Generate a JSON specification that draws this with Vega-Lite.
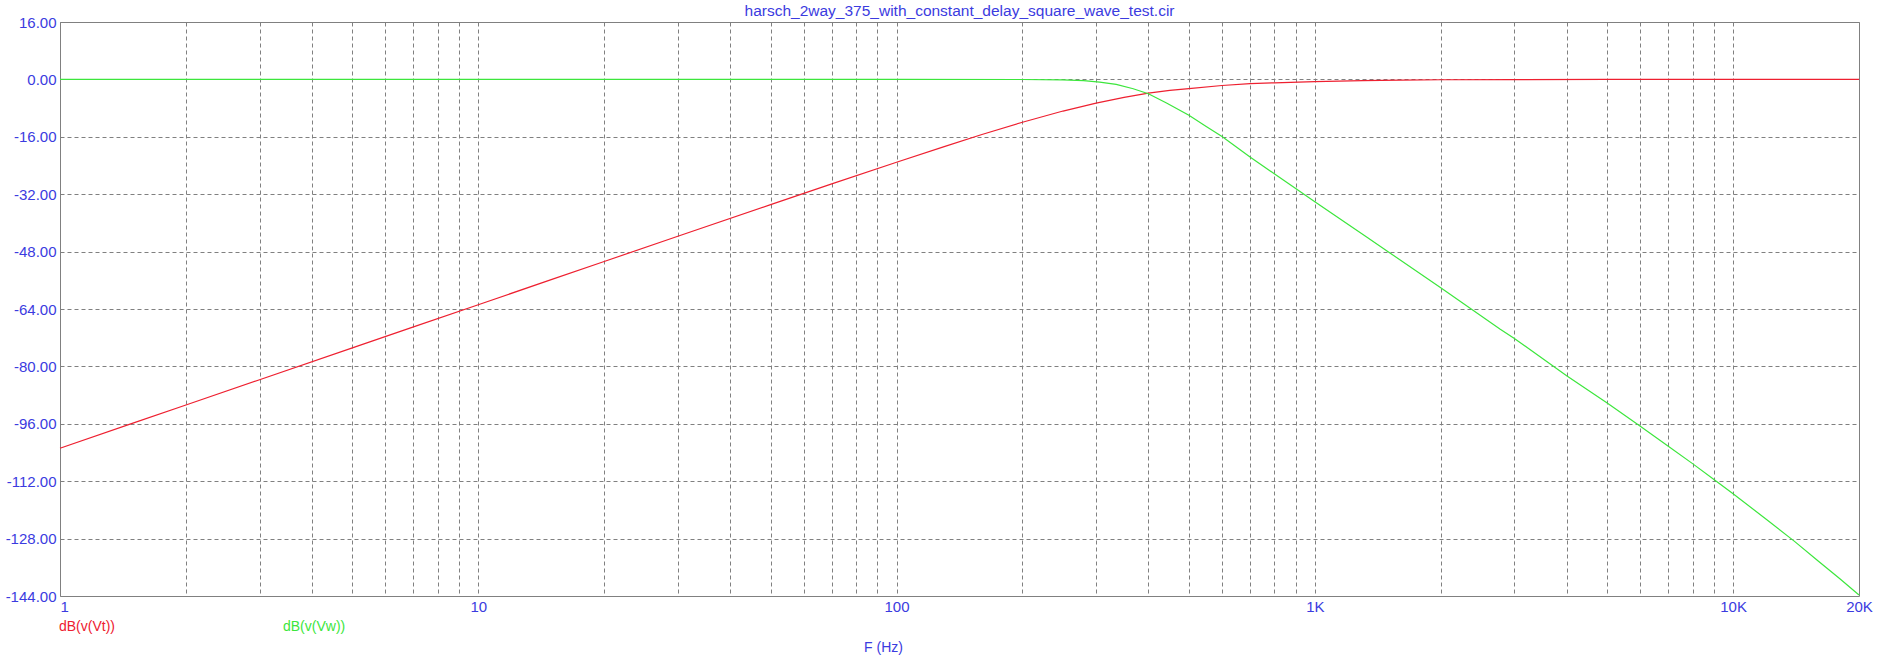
{
  "$schema": "https://vega.github.io/schema/vega-lite/v6.json",
  "width": 1799,
  "height": 574,
  "autosize": {"type": "none"},
  "padding": {"left": 60, "top": 22, "right": 40, "bottom": 64},
  "background": "white",
  "title": {
    "text": "harsch_2way_375_with_constant_delay_square_wave_test.cir",
    "anchor": "middle",
    "font": "Liberation Sans",
    "fontSize": 15.5,
    "fontWeight": "normal",
    "color": "#3b3be0",
    "offset": -4
  },
  "config": {
    "view": {"stroke": "#808080", "strokeWidth": 1},
    "axis": {
      "labelFont": "Liberation Sans",
      "titleFont": "Liberation Sans",
      "labelFontSize": 15,
      "titleFontSize": 14,
      "titleFontWeight": "normal",
      "labelColor": "#3b3be0",
      "titleColor": "#3b3be0",
      "grid": true,
      "gridColor": "#808080",
      "gridDash": [4, 3],
      "gridWidth": 1,
      "gridOpacity": 1,
      "domain": false,
      "ticks": false
    }
  },
  "data": {
    "values": [
      {"f": 1, "v": -102.8, "s": "dB(v(Vt))"},
      {"f": 1.5, "v": -95.76, "s": "dB(v(Vt))"},
      {"f": 2, "v": -90.76, "s": "dB(v(Vt))"},
      {"f": 3, "v": -83.72, "s": "dB(v(Vt))"},
      {"f": 5, "v": -74.84, "s": "dB(v(Vt))"},
      {"f": 7, "v": -69.0, "s": "dB(v(Vt))"},
      {"f": 10, "v": -62.8, "s": "dB(v(Vt))"},
      {"f": 15, "v": -55.76, "s": "dB(v(Vt))"},
      {"f": 20, "v": -50.76, "s": "dB(v(Vt))"},
      {"f": 30, "v": -43.72, "s": "dB(v(Vt))"},
      {"f": 50, "v": -34.9, "s": "dB(v(Vt))"},
      {"f": 70, "v": -29.12, "s": "dB(v(Vt))"},
      {"f": 100, "v": -23.08, "s": "dB(v(Vt))"},
      {"f": 130, "v": -18.72, "s": "dB(v(Vt))"},
      {"f": 160, "v": -15.37, "s": "dB(v(Vt))"},
      {"f": 200, "v": -11.95, "s": "dB(v(Vt))"},
      {"f": 250, "v": -8.82, "s": "dB(v(Vt))"},
      {"f": 300, "v": -6.59, "s": "dB(v(Vt))"},
      {"f": 350, "v": -4.99, "s": "dB(v(Vt))"},
      {"f": 400, "v": -3.84, "s": "dB(v(Vt))"},
      {"f": 450, "v": -3.05, "s": "dB(v(Vt))"},
      {"f": 500, "v": -2.55, "s": "dB(v(Vt))"},
      {"f": 600, "v": -1.7, "s": "dB(v(Vt))"},
      {"f": 700, "v": -1.2, "s": "dB(v(Vt))"},
      {"f": 800, "v": -0.95, "s": "dB(v(Vt))"},
      {"f": 1000, "v": -0.6, "s": "dB(v(Vt))"},
      {"f": 1300, "v": -0.35, "s": "dB(v(Vt))"},
      {"f": 1600, "v": -0.2, "s": "dB(v(Vt))"},
      {"f": 2000, "v": -0.1, "s": "dB(v(Vt))"},
      {"f": 3000, "v": -0.05, "s": "dB(v(Vt))"},
      {"f": 5000, "v": -0.02, "s": "dB(v(Vt))"},
      {"f": 10000, "v": 0, "s": "dB(v(Vt))"},
      {"f": 20000, "v": 0, "s": "dB(v(Vt))"},
      {"f": 1, "v": 0, "s": "dB(v(Vw))"},
      {"f": 10, "v": 0, "s": "dB(v(Vw))"},
      {"f": 100, "v": 0, "s": "dB(v(Vw))"},
      {"f": 200, "v": -0.03, "s": "dB(v(Vw))"},
      {"f": 250, "v": -0.12, "s": "dB(v(Vw))"},
      {"f": 280, "v": -0.35, "s": "dB(v(Vw))"},
      {"f": 306, "v": -0.74, "s": "dB(v(Vw))"},
      {"f": 335, "v": -1.4, "s": "dB(v(Vw))"},
      {"f": 368, "v": -2.6, "s": "dB(v(Vw))"},
      {"f": 400, "v": -4.0, "s": "dB(v(Vw))"},
      {"f": 442, "v": -6.6, "s": "dB(v(Vw))"},
      {"f": 500, "v": -10.0, "s": "dB(v(Vw))"},
      {"f": 550, "v": -13.1, "s": "dB(v(Vw))"},
      {"f": 600, "v": -15.9, "s": "dB(v(Vw))"},
      {"f": 700, "v": -21.6, "s": "dB(v(Vw))"},
      {"f": 800, "v": -26.3, "s": "dB(v(Vw))"},
      {"f": 900, "v": -30.4, "s": "dB(v(Vw))"},
      {"f": 1000, "v": -34.1, "s": "dB(v(Vw))"},
      {"f": 1330, "v": -43.9, "s": "dB(v(Vw))"},
      {"f": 1500, "v": -48.1, "s": "dB(v(Vw))"},
      {"f": 2000, "v": -58.1, "s": "dB(v(Vw))"},
      {"f": 2770, "v": -69.6, "s": "dB(v(Vw))"},
      {"f": 3000, "v": -72.2, "s": "dB(v(Vw))"},
      {"f": 4000, "v": -82.6, "s": "dB(v(Vw))"},
      {"f": 5000, "v": -90.2, "s": "dB(v(Vw))"},
      {"f": 6000, "v": -96.7, "s": "dB(v(Vw))"},
      {"f": 7000, "v": -102.25, "s": "dB(v(Vw))"},
      {"f": 8000, "v": -107.1, "s": "dB(v(Vw))"},
      {"f": 9000, "v": -111.5, "s": "dB(v(Vw))"},
      {"f": 10000, "v": -115.5, "s": "dB(v(Vw))"},
      {"f": 12000, "v": -122.6, "s": "dB(v(Vw))"},
      {"f": 14000, "v": -128.7, "s": "dB(v(Vw))"},
      {"f": 16000, "v": -134.3, "s": "dB(v(Vw))"},
      {"f": 18000, "v": -139.2, "s": "dB(v(Vw))"},
      {"f": 20000, "v": -143.7, "s": "dB(v(Vw))"}
    ]
  },
  "mark": {"type": "line", "strokeWidth": 1.2},
  "encoding": {
    "x": {
      "field": "f",
      "type": "quantitative",
      "scale": {"type": "log", "domain": [1, 20000], "nice": false},
      "axis": {
        "values": [1, 2, 3, 4, 5, 6, 7, 8, 9, 10, 20, 30, 40, 50, 60, 70, 80, 90, 100, 200, 300, 400, 500, 600, 700, 800, 900, 1000, 2000, 3000, 4000, 5000, 6000, 7000, 8000, 9000, 10000, 20000],
        "labelExpr": "datum.value == 1 ? '1' : datum.value == 10 ? '10' : datum.value == 100 ? '100' : datum.value == 1000 ? '1K' : datum.value == 10000 ? '10K' : datum.value == 20000 ? '20K' : ''",
        "labelOverlap": false,
        "labelBound": false,
        "labelFlush": false,
        "labelPadding": 3,
        "labelAlign": {"condition": {"test": "datum.value == 1", "value": "left"}, "value": "center"},
        "title": "F (Hz)",
        "titleX": 823,
        "titleY": 55,
        "titleBaseline": "alphabetic",
        "titleAnchor": "middle"
      }
    },
    "y": {
      "field": "v",
      "type": "quantitative",
      "scale": {"domain": [-144, 16], "nice": false, "zero": false},
      "axis": {
        "values": [-144, -128, -112, -96, -80, -64, -48, -32, -16, 0, 16],
        "labelExpr": "datum.value < 0 ? '-' + format(-datum.value, '.2f') : format(datum.value, '.2f')",
        "labelPadding": 4,
        "labelOverlap": false,
        "title": null
      }
    },
    "color": {
      "field": "s",
      "type": "nominal",
      "scale": {"domain": ["dB(v(Vt))", "dB(v(Vw))"], "range": ["#ee2030", "#3ce63c"]},
      "legend": {
        "orient": "none",
        "legendX": -15,
        "legendY": 598,
        "direction": "horizontal",
        "title": null,
        "padding": 0,
        "symbolSize": 0,
        "symbolOpacity": 0,
        "symbolStrokeWidth": 0,
        "labelOffset": 0,
        "columnPadding": 154,
        "labelFont": "Liberation Sans",
        "labelFontSize": 14,
        "encode": {"labels": {"update": {"fill": {"scale": "color", "field": "value"}}}}
      }
    }
  }
}
